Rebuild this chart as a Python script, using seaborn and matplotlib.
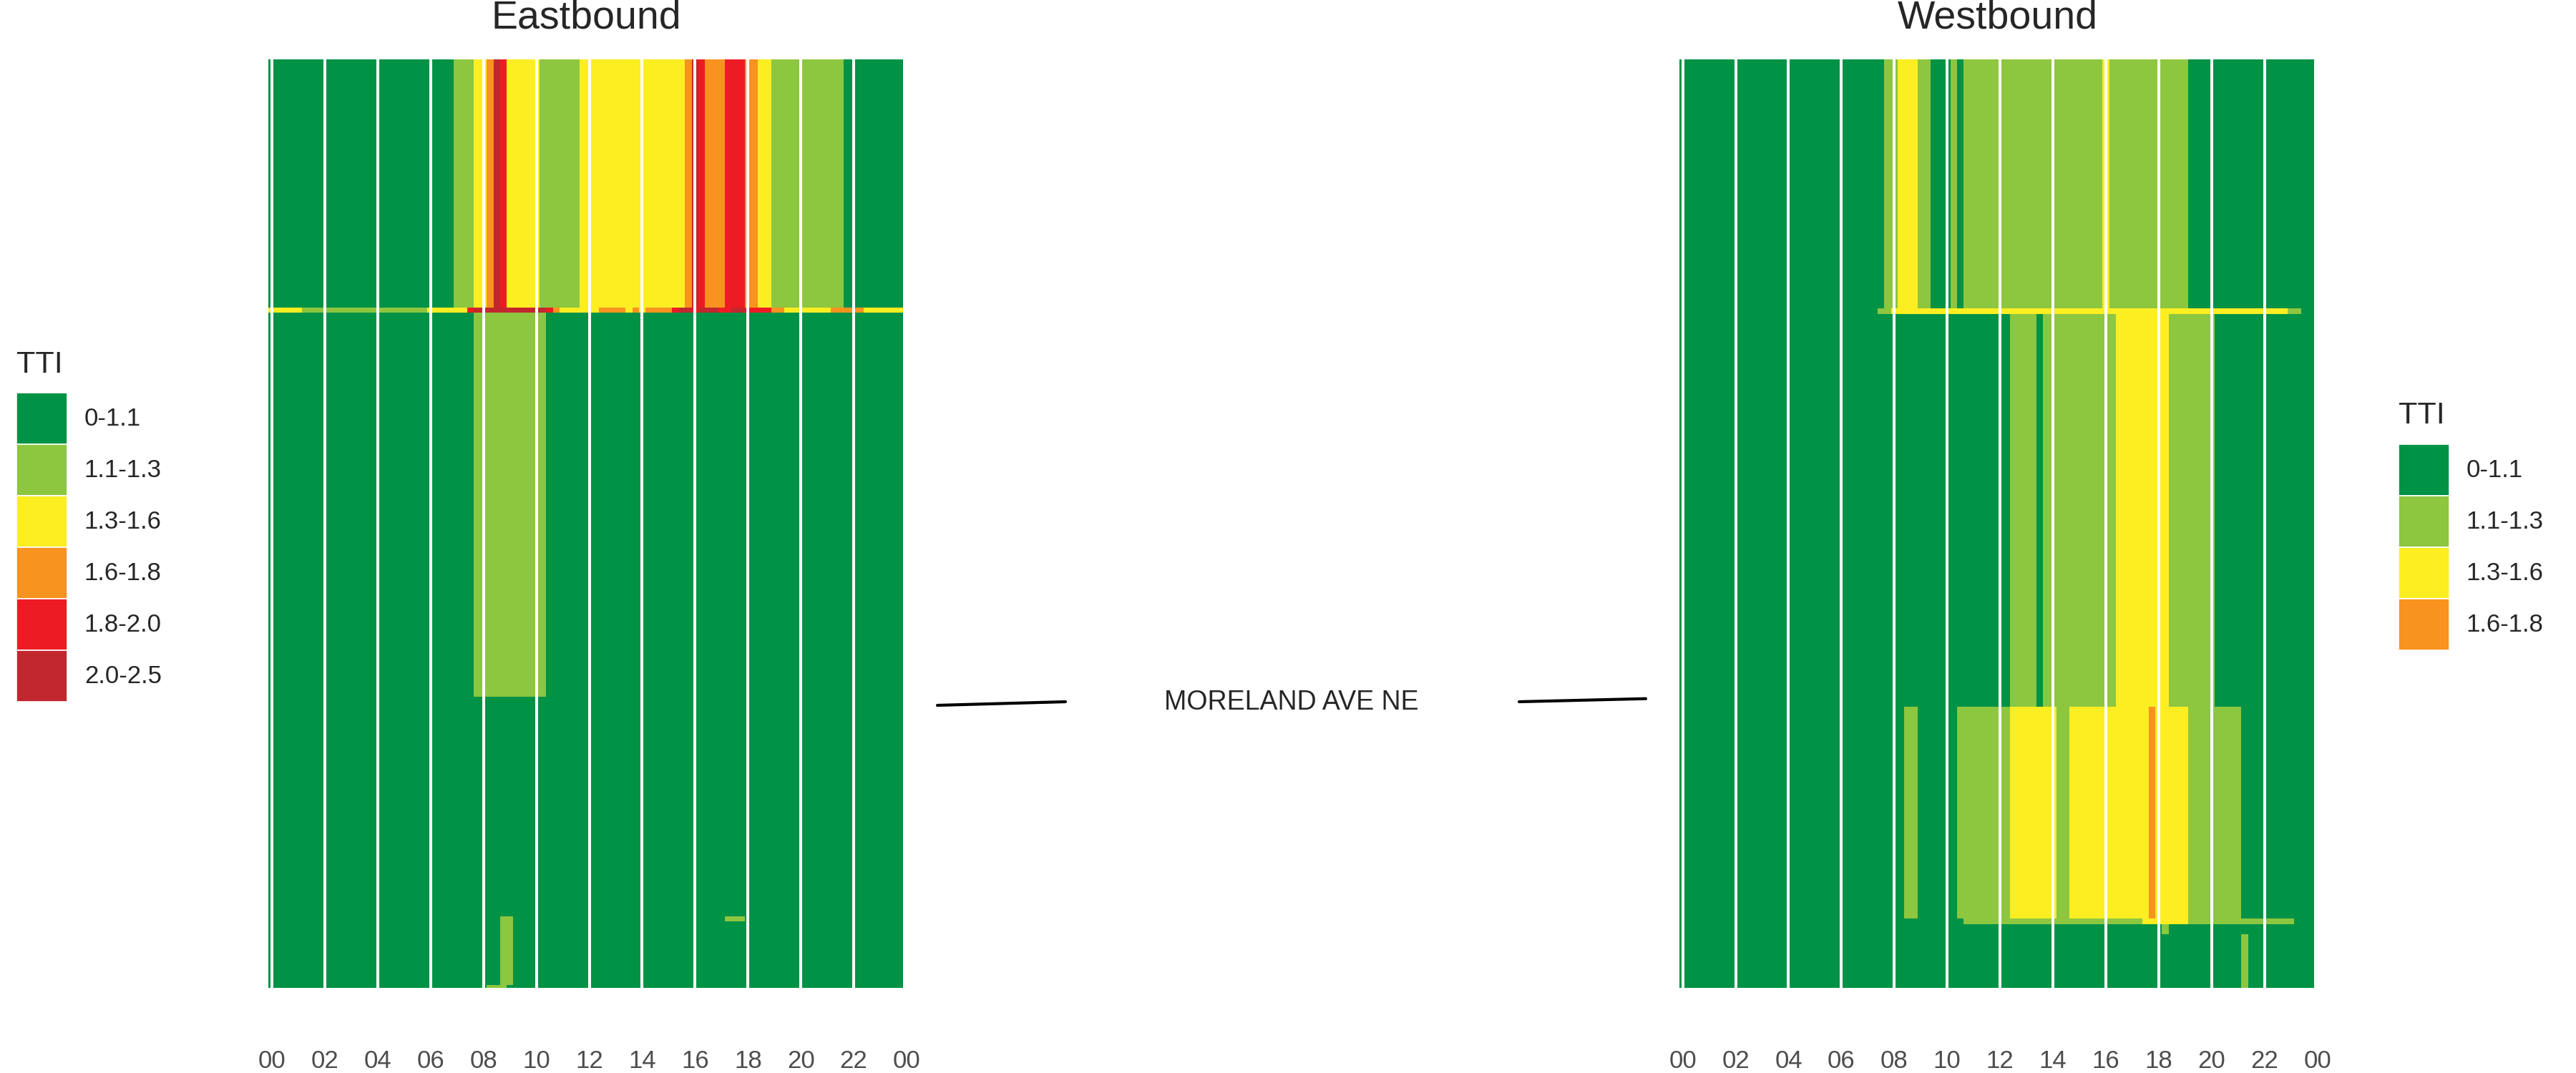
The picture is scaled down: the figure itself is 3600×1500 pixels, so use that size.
import matplotlib
matplotlib.use("Agg")
import matplotlib.pyplot as plt
import numpy as np
import seaborn as sns
from matplotlib.colors import ListedColormap
from matplotlib.legend_handler import HandlerPatch
from matplotlib.lines import Line2D
from matplotlib.patches import Patch, Rectangle

# --- TTI classes -------------------------------------------------------------
TTI_LABELS = ["0-1.1", "1.1-1.3", "1.3-1.6", "1.6-1.8", "1.8-2.0", "2.0-2.5"]
TTI_COLORS = ["#009245", "#8DC63F", "#FCEE21", "#F7931E", "#ED1C24", "#C1272D"]

# 15-minute bins over the day (bin start in hours)
HOURS = np.arange(96) * 0.25
HOUR_TICKS = list(range(0, 25, 2))
HOUR_LABELS = ["00", "02", "04", "06", "08", "10", "12", "14", "16", "18", "20", "22", "00"]

# segment lengths (miles), top to bottom
EB_SEG_MILES = [0.771, 0.016, 1.193, 0.682, 0.016, 0.198, 0.009]
WB_SEG_MILES = [0.773, 0.018, 1.220, 0.658, 0.018, 0.031, 0.167]

# runs of (first bin, last bin, TTI class); anything not listed is class 0
EB_RUNS = [
    [(7.0, 7.5, 1), (7.75, 8.0, 2), (8.25, 8.25, 3), (8.5, 8.5, 5), (8.75, 8.75, 4),
     (9.0, 10.0, 2), (10.25, 11.5, 1), (11.75, 15.5, 2), (15.75, 15.75, 3),
     (16.0, 16.0, 5), (16.25, 16.25, 4), (16.5, 17.0, 3), (17.25, 17.75, 4),
     (18.0, 18.25, 3), (18.5, 18.75, 2), (19.0, 21.5, 1)],
    [(0.0, 1.0, 2), (1.25, 5.75, 1), (6.0, 7.25, 2), (7.5, 7.5, 4), (7.75, 10.25, 5),
     (10.5, 10.5, 4), (10.75, 10.75, 3), (11.0, 12.25, 2), (12.5, 13.25, 3),
     (13.5, 13.5, 2), (13.75, 13.75, 3), (14.0, 14.0, 2), (14.25, 15.0, 3),
     (15.25, 15.25, 4), (15.5, 15.75, 5), (16.0, 16.0, 4), (16.25, 16.75, 5),
     (17.0, 17.25, 4), (17.5, 17.75, 5), (18.0, 18.75, 4), (19.0, 19.25, 3),
     (19.5, 21.0, 2), (21.25, 22.25, 3), (22.5, 23.75, 2)],
    [(7.75, 10.25, 1)],
    [],
    [(8.75, 9.0, 1), (17.25, 17.75, 1)],
    [(8.75, 9.0, 1)],
    [(8.25, 8.75, 1)],
]

WB_RUNS = [
    [(7.75, 8.0, 1), (8.25, 8.75, 2), (9.0, 9.25, 1), (10.25, 10.25, 1),
     (10.75, 15.75, 1), (16.0, 16.0, 2), (16.25, 19.0, 1)],
    [(7.5, 7.75, 1), (8.0, 22.75, 2), (23.0, 23.25, 1)],
    [(12.5, 13.25, 1), (13.75, 16.25, 1), (16.5, 18.25, 2), (18.5, 20.0, 1)],
    [(8.5, 8.75, 1), (10.5, 12.25, 1), (12.5, 14.0, 2), (14.25, 14.5, 1),
     (14.75, 17.5, 2), (17.75, 17.75, 3), (18.0, 19.0, 2), (19.25, 21.0, 1)],
    [(10.75, 17.25, 1), (17.5, 19.0, 2), (19.25, 23.0, 1)],
    [(18.25, 18.25, 1)],
    [(21.25, 21.25, 1)],
]

CROSS_STREET = "MORELAND AVE NE"

W, H = 3600, 1500


def build_grid(runs):
    grid = np.zeros((len(runs), len(HOURS)), dtype=int)
    for r, row in enumerate(runs):
        for a, b, c in row:
            grid[r, (HOURS >= a - 1e-9) & (HOURS <= b + 1e-9)] = c
    return grid


def draw_panel(ax, runs, miles, cmap):
    grid = build_grid(runs)
    x_edges = np.append(HOURS, HOURS[-1] + 0.25) - 0.125
    y_edges = np.concatenate([[0], np.cumsum(miles)])
    ax.pcolormesh(x_edges, y_edges, grid, cmap=cmap, vmin=-0.5, vmax=len(TTI_COLORS) - 0.5,
                  shading="flat", antialiased=False, edgecolors="none")
    # white hour guides drawn over the tiles
    for h in HOUR_TICKS[:-1]:
        ax.axvline(h, color="white", lw=2.9, zorder=3)
    ax.set_xlim(-0.125, 24.0)
    ax.set_ylim(y_edges[-1], 0)
    ax.set_xticks(HOUR_TICKS)
    ax.set_xticklabels(HOUR_LABELS)
    ax.set_yticks([])
    ax.tick_params(axis="x", length=0, pad=62, labelsize=25, labelcolor="#4D4D4D")
    sns.despine(ax=ax, left=True, bottom=True)


def full_patch(legend, orig_handle, xdescent, ydescent, width, height, fontsize):
    return Rectangle((-xdescent, -ydescent), width, height)


def add_legend(n, x_px, title_base_px, box_top_px):
    handles = [Patch(facecolor=c, edgecolor="white", linewidth=1.2) for c in TTI_COLORS[:n]]
    fig.text(x_px / W, 1 - title_base_px / H, "TTI", fontsize=31, ha="left", va="baseline")
    fig.legend(handles, TTI_LABELS[:n], loc="upper left",
               bbox_to_anchor=(x_px / W, 1 - box_top_px / H), frameon=False,
               fontsize=25, handlelength=2.04, handleheight=2.81, labelspacing=0.0,
               handletextpad=0.69, borderpad=0, borderaxespad=0,
               handler_map={Patch: HandlerPatch(patch_func=full_patch)})


sns.set_theme(style="white")
plt.rcParams["font.family"] = ["Liberation Sans", "DejaVu Sans"]

cmap = ListedColormap(sns.color_palette(TTI_COLORS))

fig = plt.figure(figsize=(W / 100, H / 100), dpi=100)
fig.patch.set_facecolor("white")

ax_eb = fig.add_axes([375.4 / W, 1 - 1381 / H, 891.6 / W, 1298 / H])
ax_wb = fig.add_axes([2347 / W, 1 - 1381 / H, 891.6 / W, 1298 / H])
draw_panel(ax_eb, EB_RUNS, EB_SEG_MILES, cmap)
draw_panel(ax_wb, WB_RUNS, WB_SEG_MILES, cmap)

fig.text(819 / W, 1 - 40 / H, "Eastbound", fontsize=40, ha="center", va="baseline")
fig.text(2792 / W, 1 - 40 / H, "Westbound", fontsize=40, ha="center", va="baseline")

# cross street marker between the panels
fig.text(1805 / W, 1 - 982 / H, CROSS_STREET, fontsize=27, ha="center", va="center")
fig.add_artist(Line2D([1310 / W, 1489 / W], [1 - 986 / H, 1 - 981 / H],
                      color="black", lw=3, transform=fig.transFigure))
fig.add_artist(Line2D([2123 / W, 2300 / W], [1 - 981 / H, 1 - 976.7 / H],
                      color="black", lw=3, transform=fig.transFigure))

add_legend(6, 23, 521, 549)
add_legend(4, 3352, 592, 621)

fig.savefig("out.png", dpi=100, facecolor="white")
